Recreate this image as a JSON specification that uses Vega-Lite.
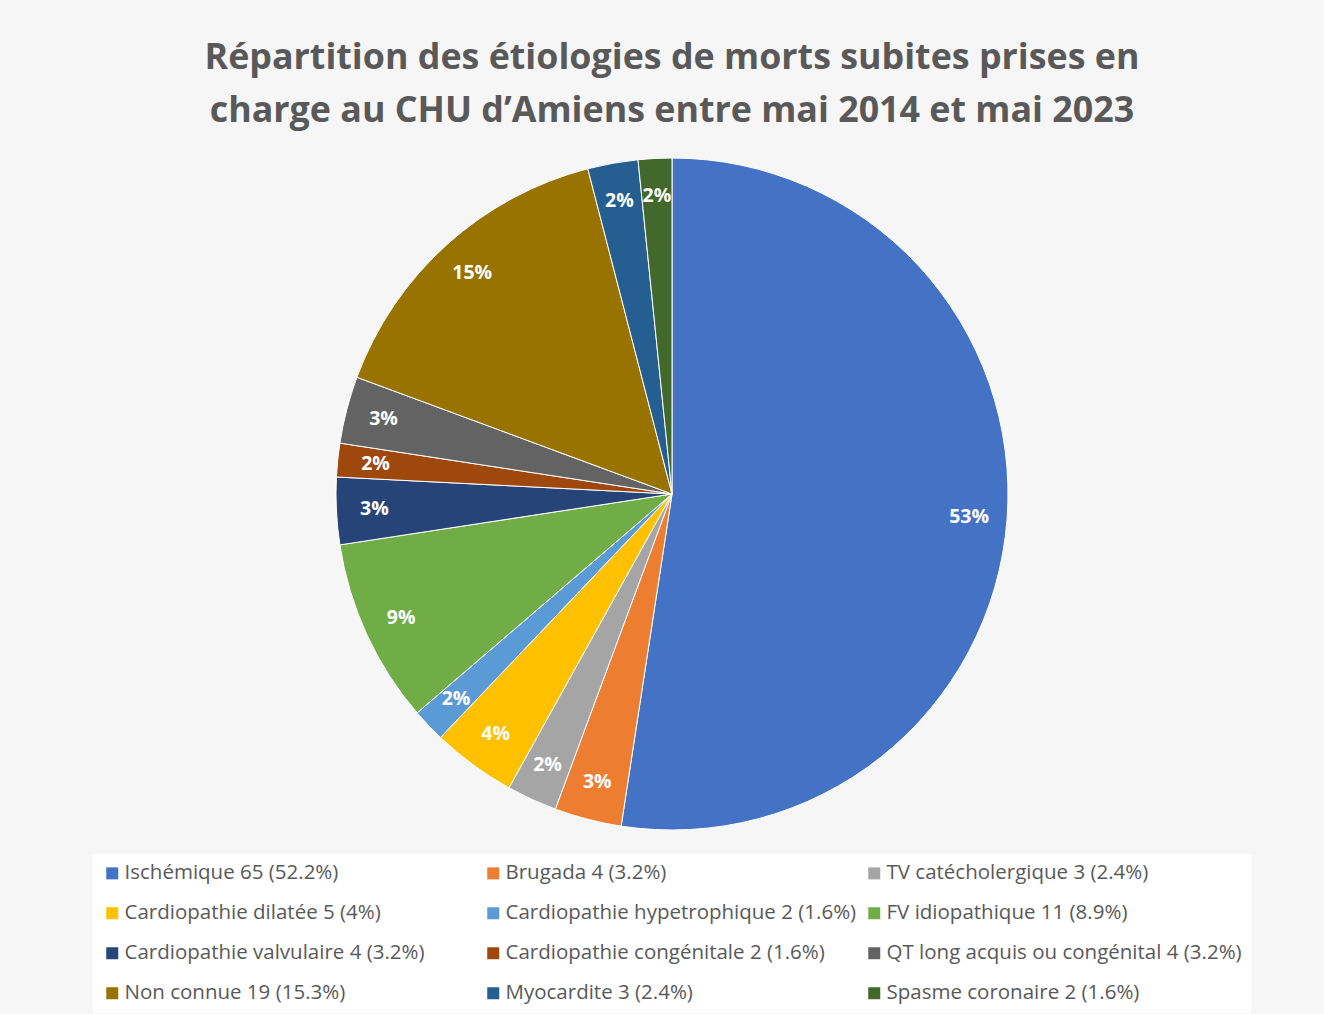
{
  "$schema": "https://vega.github.io/schema/vega-lite/v6.json",
  "width": 1304,
  "height": 688,
  "autosize": {"type": "none"},
  "padding": {"left": 20, "top": 150, "right": 0, "bottom": 176},
  "background": "#f6f6f6",
  "title": {
    "text": ["Répartition des étiologies de morts subites prises en", "charge au CHU d’Amiens entre mai 2014 et mai 2023"],
    "font": "Open Sans",
    "fontSize": 35.8,
    "fontWeight": "bold",
    "color": "#595959",
    "lineHeight": 53,
    "anchor": "middle",
    "offset": 20
  },
  "data": {
    "values": [
      {"ord": 1, "cat": "Ischémique 65 (52.2%)", "n": 65, "pct": "53%"},
      {"ord": 2, "cat": "Brugada 4 (3.2%)", "n": 4, "pct": "3%"},
      {"ord": 3, "cat": "TV catécholergique 3 (2.4%)", "n": 3, "pct": "2%"},
      {"ord": 4, "cat": "Cardiopathie dilatée 5 (4%)", "n": 5, "pct": "4%"},
      {"ord": 5, "cat": "Cardiopathie hypetrophique 2 (1.6%)", "n": 2, "pct": "2%"},
      {"ord": 6, "cat": "FV idiopathique 11 (8.9%)", "n": 11, "pct": "9%"},
      {"ord": 7, "cat": "Cardiopathie valvulaire 4 (3.2%)", "n": 4, "pct": "3%"},
      {"ord": 8, "cat": "Cardiopathie congénitale 2 (1.6%)", "n": 2, "pct": "2%"},
      {"ord": 9, "cat": "QT long acquis ou congénital 4 (3.2%)", "n": 4, "pct": "3%"},
      {"ord": 10, "cat": "Non connue 19 (15.3%)", "n": 19, "pct": "15%"},
      {"ord": 11, "cat": "Myocardite 3 (2.4%)", "n": 3, "pct": "2%"},
      {"ord": 12, "cat": "Spasme coronaire 2 (1.6%)", "n": 2, "pct": "2%"}
    ]
  },
  "encoding": {
    "theta": {"field": "n", "type": "quantitative", "stack": true},
    "order": {"field": "ord", "type": "quantitative"}
  },
  "layer": [
    {
      "mark": {"type": "arc", "outerRadius": 336, "stroke": "white", "strokeWidth": 1},
      "encoding": {
        "color": {
          "field": "cat",
          "type": "nominal",
          "sort": {"field": "ord"},
          "scale": {
            "domain": ["Ischémique 65 (52.2%)", "Brugada 4 (3.2%)", "TV catécholergique 3 (2.4%)", "Cardiopathie dilatée 5 (4%)", "Cardiopathie hypetrophique 2 (1.6%)", "FV idiopathique 11 (8.9%)", "Cardiopathie valvulaire 4 (3.2%)", "Cardiopathie congénitale 2 (1.6%)", "QT long acquis ou congénital 4 (3.2%)", "Non connue 19 (15.3%)", "Myocardite 3 (2.4%)", "Spasme coronaire 2 (1.6%)"],
            "range": ["#4472C4", "#ED7D31", "#A5A5A5", "#FFC000", "#5B9BD5", "#70AD47", "#264478", "#9E480E", "#636363", "#997300", "#255E91", "#43682B"]
          },
          "legend": {
            "title": null,
            "orient": "none",
            "direction": "horizontal",
            "legendX": 73,
            "legendY": 704,
            "columns": 3,
            "gridAlign": "all",
            "symbolType": "square",
            "symbolSize": 144,
            "symbolStrokeWidth": 0,
            "labelFont": "Open Sans",
            "labelFontSize": 20.5,
            "labelColor": "#595959",
            "labelLimit": 500,
            "labelOffset": 2,
            "rowPadding": 19,
            "columnPadding": 3,
            "fillColor": "white",
            "padding": 9
          }
        }
      }
    },
    {
      "mark": {"type": "text", "radius": 298, "fill": "white", "fontWeight": "bold", "fontSize": 19.5, "font": "Open Sans"},
      "encoding": {
        "detail": {"field": "cat", "type": "nominal"},
        "text": {"field": "pct", "type": "nominal"}
      }
    }
  ],
  "config": {"view": {"stroke": null}}
}
